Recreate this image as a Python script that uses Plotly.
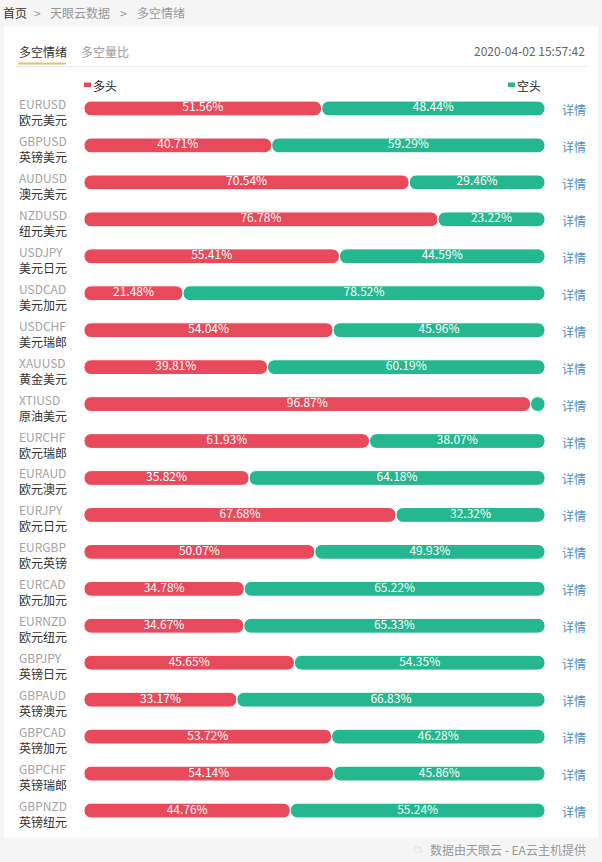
import plotly.graph_objects as go

# ---- data ----
pairs = ["EURUSD", "GBPUSD", "AUDUSD", "NZDUSD", "USDJPY", "USDCAD", "USDCHF",
         "XAUUSD", "XTIUSD", "EURCHF", "EURAUD", "EURJPY", "EURGBP", "EURCAD",
         "EURNZD", "GBPJPY", "GBPAUD", "GBPCAD", "GBPCHF", "GBPNZD"]
names = ["欧元美元", "英镑美元", "澳元美元", "纽元美元", "美元日元", "美元加元", "美元瑞郎",
         "黄金美元", "原油美元", "欧元瑞郎", "欧元澳元", "欧元日元", "欧元英镑", "欧元加元",
         "欧元纽元", "英镑日元", "英镑澳元", "英镑加元", "英镑瑞郎", "英镑纽元"]
long_pct = [51.56, 40.71, 70.54, 76.78, 55.41, 21.48, 54.04, 39.81, 96.87, 61.93,
            35.82, 67.68, 50.07, 34.78, 34.67, 45.65, 33.17, 53.72, 54.14, 44.76]
short_pct = [48.44, 59.29, 29.46, 23.22, 44.59, 78.52, 45.96, 60.19, 3.13, 38.07,
             64.18, 32.32, 49.93, 65.22, 65.33, 54.35, 66.83, 46.28, 45.86, 55.24]
legend_names = ["多头", "空头"]
timestamp = "2020-04-02 15:57:42"
tabs = ["多空情绪", "多空量比"]
crumbs = ["首页", ">", "天眼云数据", ">", "多空情绪"]
footer = "数据由天眼云 - EA云主机提供"
detail = "详情"

RED = "#e84a5b"
GREEN = "#25b78f"
BG = "#f5f5f5"
FONT = "Microsoft YaHei, Noto Sans CJK SC, sans-serif"

W, H = 602, 862
L, R = 84, 545          # plot area x pixels
T, B = 89.5, 829.5      # plot area y pixels


def px2x(px):
    return (px - L) / (R - L)


def px2y(py):
    return (B - py) / (B - T)


def fmt(v):
    return f"{v:.2f}%" if v >= 5 else ""


fig = go.Figure()
fig.add_trace(go.Bar(
    y=pairs, x=[-v for v in long_pct], base=long_pct, orientation="h",
    marker=dict(color=RED, line=dict(color="white", width=1)),
    hoverinfo="skip", name=legend_names[0], showlegend=False))
fig.add_trace(go.Bar(
    y=pairs, x=short_pct, base=long_pct, orientation="h",
    marker=dict(color=GREEN, line=dict(color="white", width=1)),
    hoverinfo="skip", name=legend_names[1], showlegend=False))

# percentage labels centred in each segment
fig.add_trace(go.Scatter(
    y=pairs + pairs,
    x=[v / 2 for v in long_pct] + [lv + sv / 2 for lv, sv in zip(long_pct, short_pct)],
    text=[fmt(v) for v in long_pct] + [fmt(v) for v in short_pct],
    mode="text", textposition="middle center",
    textfont=dict(color="white", size=12, family=FONT),
    hoverinfo="skip", showlegend=False))

shapes = [
    # white panel
    dict(type="rect", xref="paper", yref="paper", layer="below",
         x0=px2x(4), x1=px2x(598), y0=px2y(838), y1=px2y(26),
         fillcolor="white", line=dict(width=0)),
    # header separator
    dict(type="line", xref="paper", yref="paper", layer="below",
         x0=px2x(16), x1=px2x(587), y0=px2y(66), y1=px2y(66),
         line=dict(color="#ececec", width=1)),
    # tab underline
    dict(type="line", xref="paper", yref="paper",
         x0=px2x(18), x1=px2x(66), y0=px2y(63), y1=px2y(63),
         line=dict(color="#e3c46e", width=2)),
    # legend swatches
    dict(type="rect", xref="paper", yref="paper",
         x0=px2x(84), x1=px2x(91), y0=px2y(86.5), y1=px2y(82),
         fillcolor=RED, line=dict(width=0)),
    dict(type="rect", xref="paper", yref="paper",
         x0=px2x(508), x1=px2x(515), y0=px2y(86.5), y1=px2y(82),
         fillcolor=GREEN, line=dict(width=0)),
]

ann = []


def txt(text, px, py, size=12, color="#333", anchor="left"):
    ann.append(dict(text=text, x=px2x(px), y=px2y(py), xref="paper", yref="paper",
                    xanchor=anchor, yanchor="middle", showarrow=False,
                    font=dict(size=size, color=color, family=FONT)))


# breadcrumb
crumb_x = [1, 32, 48, 118, 135]
crumb_c = ["#333", "#999", "#999", "#999", "#999"]
for s, x, c in zip(crumbs, crumb_x, crumb_c):
    txt(s, x, 12, 12, c)

# tabs and timestamp
txt(tabs[0], 17, 51, 12, "#333")
txt(tabs[1], 79, 51, 12, "#999")
txt(timestamp, 587, 50, 12, "#666", "right")

# legend labels
txt(legend_names[0], 91, 85, 12, "#222")
txt(legend_names[1], 515, 85, 12, "#222")

# row labels
for p, n in zip(pairs, names):
    ann.append(dict(text=p, x=px2x(17), y=p, xref="paper", yref="y",
                    xanchor="left", yanchor="middle", yshift=5, showarrow=False,
                    font=dict(size=12, color="#a3a3a3", family=FONT)))
    ann.append(dict(text=n, x=px2x(17), y=p, xref="paper", yref="y",
                    xanchor="left", yanchor="middle", yshift=-11, showarrow=False,
                    font=dict(size=12, color="#333", family=FONT)))
    ann.append(dict(text=detail, x=px2x(560), y=p, xref="paper", yref="y",
                    xanchor="left", yanchor="middle", yshift=-1, showarrow=False,
                    font=dict(size=12, color="#4f8cc2", family=FONT)))

# footer
txt("☁", 411, 850, 9, "#a8c8e0")
txt(footer, 588, 850, 12, "#9a9a9a", "right")

fig.update_layout(
    width=W, height=H,
    margin=dict(l=L, r=W - R, t=T, b=H - B, pad=0),
    paper_bgcolor=BG, plot_bgcolor="rgba(0,0,0,0)",
    barmode="overlay", bargap=0.6, barcornerradius=7,
    xaxis=dict(range=[0, 100], visible=False, fixedrange=True),
    yaxis=dict(range=[len(pairs) - 0.5, -0.5], autorange=False, visible=False,
               fixedrange=True, categoryorder="array", categoryarray=pairs),
    shapes=shapes, annotations=ann,
    font=dict(family=FONT),
    showlegend=False,
)

fig.write_html(
    "out.html",
    config={"displayModeBar": False},
    post_script=("document.body.style.margin='0';"
                 "document.body.style.padding='0';"
                 "document.body.style.overflow='hidden';"
                 "document.body.style.background='" + BG + "';"),
)
